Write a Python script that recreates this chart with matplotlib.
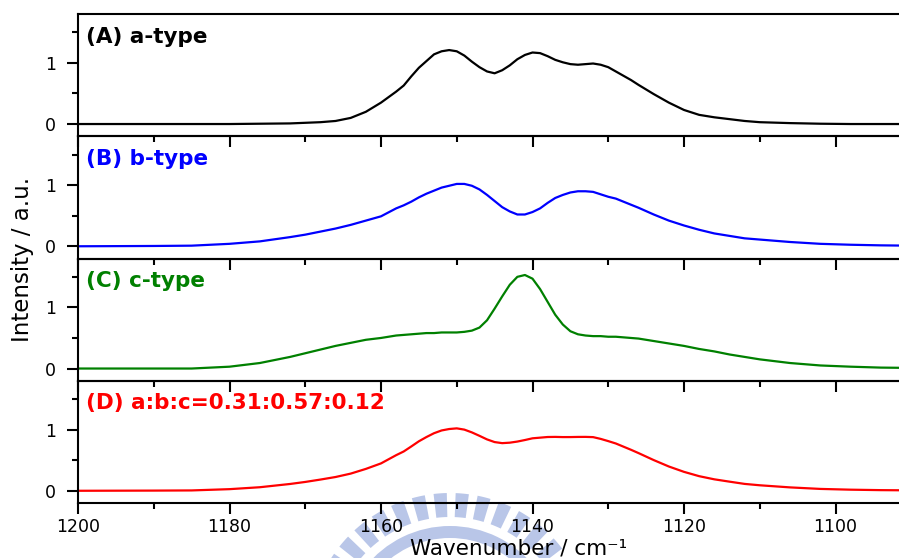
import numpy as np
import matplotlib
matplotlib.use("Agg")
import matplotlib.pyplot as plt
from matplotlib.patches import Wedge

# Wavenumber grid (cm^-1) shared by all band contours
wavenumber = [1200, 1190, 1185, 1180, 1176, 1172, 1170, 1168, 1166, 1164, 1162, 1160,
              1158, 1157, 1156, 1155, 1154, 1153, 1152, 1151, 1150, 1149, 1148, 1147,
              1146, 1145, 1144, 1143, 1142, 1141, 1140, 1139, 1138, 1137, 1136, 1135,
              1134, 1133, 1132, 1131, 1130, 1129, 1128, 1127, 1126, 1124, 1122, 1120,
              1118, 1116, 1114, 1112, 1110, 1106, 1102, 1098, 1094, 1090]

# a-type contour
a_type = [0.00, 0.00, 0.00, 0.00, 0.005, 0.01, 0.02, 0.03, 0.05, 0.10, 0.20, 0.35,
          0.53, 0.63, 0.78, 0.92, 1.03, 1.14, 1.19, 1.21, 1.19, 1.12, 1.02, 0.93,
          0.86, 0.83, 0.88, 0.96, 1.06, 1.13, 1.17, 1.16, 1.11, 1.05, 1.01, 0.98,
          0.97, 0.98, 0.99, 0.97, 0.93, 0.86, 0.79, 0.72, 0.64, 0.49, 0.35, 0.23,
          0.15, 0.11, 0.08, 0.05, 0.03, 0.015, 0.005, 0.00, 0.00, 0.00]

# b-type contour
b_type = [0.00, 0.005, 0.01, 0.04, 0.08, 0.15, 0.19, 0.24, 0.29, 0.35, 0.42, 0.49,
          0.62, 0.67, 0.73, 0.80, 0.86, 0.91, 0.96, 0.99, 1.02, 1.02, 0.99, 0.93,
          0.84, 0.74, 0.64, 0.57, 0.52, 0.52, 0.56, 0.62, 0.71, 0.79, 0.84, 0.88,
          0.90, 0.90, 0.89, 0.85, 0.81, 0.78, 0.73, 0.68, 0.63, 0.52, 0.42, 0.34,
          0.27, 0.21, 0.17, 0.13, 0.11, 0.07, 0.04, 0.025, 0.015, 0.01]

# c-type contour
c_type = [0.00, 0.00, 0.00, 0.03, 0.09, 0.19, 0.25, 0.31, 0.37, 0.42, 0.47, 0.50,
          0.54, 0.55, 0.56, 0.57, 0.58, 0.58, 0.59, 0.59, 0.59, 0.60, 0.62, 0.67,
          0.79, 0.98, 1.18, 1.37, 1.50, 1.53, 1.47, 1.30, 1.09, 0.88, 0.72, 0.61,
          0.56, 0.54, 0.53, 0.53, 0.52, 0.52, 0.51, 0.50, 0.49, 0.45, 0.41, 0.37,
          0.32, 0.28, 0.23, 0.19, 0.15, 0.09, 0.05, 0.03, 0.015, 0.01]

# hybrid mixing ratios a:b:c
ratio_a, ratio_b, ratio_c = 0.31, 0.57, 0.12

x = np.array(wavenumber, dtype=float)
mixed = ratio_a * np.array(a_type) + ratio_b * np.array(b_type) + ratio_c * np.array(c_type)

panels = [
    (a_type, "black", "(A) a-type"),
    (b_type, "#0000ff", "(B) b-type"),
    (c_type, "#008000", "(C) c-type"),
    (mixed, "#ff0000", f"(D) a:b:c={ratio_a:.2f}:{ratio_b:.2f}:{ratio_c:.2f}"),
]

W, H = 899, 558
fig = plt.figure(figsize=(W / 100, H / 100), dpi=100)

# faint seal printed behind the plot
seal_col = "#b9c6e8"
for ang in np.arange(40, 150, 9.0):
    fig.patches.append(Wedge((450, H - 634), 141, ang - 2.7, ang + 2.7, width=24,
                             transform=None, facecolor=seal_col, edgecolor="none",
                             zorder=-5))
fig.patches.append(Wedge((450, H - 634), 108, 38, 142, width=12, transform=None,
                         facecolor=seal_col, edgecolor="none", zorder=-5))

left_px, top_px, panel_h = 78, 14, 122.25
xmin, xmax = 1200, 1090
px_per_unit = 7.575
right_px = left_px + (xmin - xmax) * px_per_unit
ax_w = right_px - left_px

axes = []
for i, (vals, col, label) in enumerate(panels):
    top = top_px + i * panel_h
    ax = fig.add_axes([left_px / W, 1 - (top + panel_h) / H, ax_w / W, panel_h / H])
    ax.set_facecolor("none")
    ax.plot(x, vals, color=col, lw=1.6, solid_joinstyle="round", solid_capstyle="round")
    ax.set_xlim(xmin, xmax)
    ax.set_ylim(-0.2, 1.8)
    ax.set_yticks([0, 1])
    ax.set_yticks([0.5, 1.5], minor=True)
    ax.set_xticks([1200, 1180, 1160, 1140, 1120, 1100])
    ax.set_xticks(np.arange(1190, 1089, -20), minor=True)
    ax.tick_params(axis="both", which="major", length=8, width=1.5, direction="out",
                   labelsize=12.5, colors="black")
    ax.tick_params(axis="both", which="minor", length=4.3, width=1.5, direction="out")
    ax.tick_params(axis="y", which="major", pad=8)
    ax.tick_params(axis="x", which="major", pad=3)
    ax.tick_params(top=False, right=False, which="both")
    if i < 3:
        ax.tick_params(axis="x", labelbottom=False)
    for s in ["left", "top", "bottom"]:
        ax.spines[s].set_linewidth(1.5)
    ax.spines["right"].set_visible(False)
    ax.text(8 / ax_w, 0.814, label, transform=ax.transAxes,
            color=col, fontsize=15.5, fontweight="bold", va="center", ha="left")
    axes.append(ax)

fig.text(519 / W, 1 - 554 / H, "Wavenumber / cm\u207b\u00b9", fontsize=15.5,
         ha="center", va="baseline")
fig.text(23 / W, 1 - 259 / H, "Intensity / a.u.", fontsize=16.5, rotation=90,
         ha="center", va="center")

fig.savefig("out.png", dpi=100)
